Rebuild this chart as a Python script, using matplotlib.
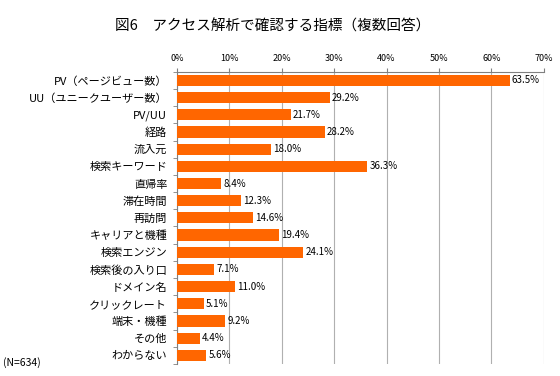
import matplotlib.pyplot as plt
import numpy as np

plt.rcParams['font.family'] = ['Noto Sans CJK JP', 'DejaVu Sans']

title = "図6　アクセス解析で確認する指標（複数回答）"
categories = ["PV（ページビュー数）", "UU（ユニークユーザー数）", "PV/UU", "経路", "流入元",
              "検索キーワード", "直帰率", "滞在時間", "再訪問", "キャリアと機種",
              "検索エンジン", "検索後の入り口", "ドメイン名", "クリックレート", "端末・機種",
              "その他", "わからない"]
values = [63.5, 29.2, 21.7, 28.2, 18.0, 36.3, 8.4, 12.3, 14.6, 19.4,
          24.1, 7.1, 11.0, 5.1, 9.2, 4.4, 5.6]
xticks = [0, 10, 20, 30, 40, 50, 60, 70]
note = "(N=634)"

fig = plt.figure(figsize=(5.6, 3.76), dpi=100)
ax = fig.add_axes([0.316, 0.032, 0.655, 0.777])

y = np.arange(len(categories))
ax.barh(y, values, height=0.65, color="#FF6600", zorder=3)
for yi, v in zip(y, values):
    ax.text(v + 0.4, yi, "%.1f%%" % v, va="center", ha="left", fontsize=7, zorder=4)

ax.set_xlim(0, 70)
ax.set_ylim(len(categories) - 0.5, -0.5)
ax.set_xticks(xticks)
ax.set_xticklabels(["%d%%" % t for t in xticks], fontsize=6.5)
ax.xaxis.tick_top()
ax.tick_params(axis="x", colors="#808080", labelcolor="black", length=3, pad=3)

ax.set_yticks(y)
ax.set_yticklabels(categories, fontsize=8)
ax.set_yticks(np.arange(len(categories) + 1) - 0.5, minor=True)
ax.tick_params(axis="y", which="major", length=0, pad=7)
ax.tick_params(axis="y", which="minor", length=3, color="#808080")

ax.grid(axis="x", color="#b0b0b0", linewidth=0.8, zorder=0)
for s in ["right", "bottom"]:
    ax.spines[s].set_visible(False)
for s in ["left", "top"]:
    ax.spines[s].set_color("#808080")

fig.text(0.486, 0.93, title, ha="center", va="center", fontsize=10.5)
fig.text(0.005, 0.037, note, ha="left", va="center", fontsize=7.5)

fig.savefig("out.png", dpi=100)
